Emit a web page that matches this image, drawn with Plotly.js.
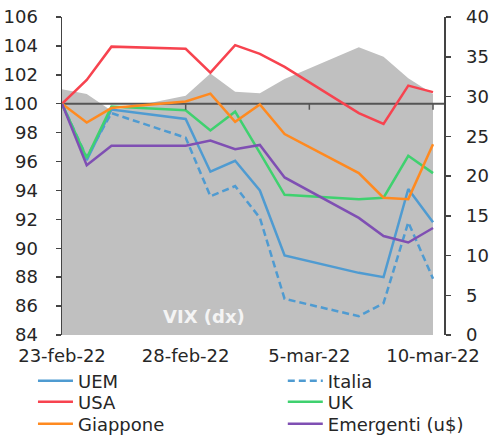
<!DOCTYPE html>
<html>
<head>
<meta charset="utf-8">
<script src="https://cdn.plot.ly/plotly-3.0.1.min.js"></script>
<style>
  html, body { margin: 0; padding: 0; background: #ffffff; }
  #chart { width: 492px; height: 438px; }
</style>
</head>
<body>
<div id="chart"></div>
<script>
// ---- data ----
const dates = ['2022-02-23','2022-02-24','2022-02-25','2022-02-28','2022-03-01','2022-03-02',
               '2022-03-03','2022-03-04','2022-03-07','2022-03-08','2022-03-09','2022-03-10'];
const uem       = [100, 96.1, 99.6, 98.95, 95.3, 96.05, 94.0, 89.5, 88.3, 88.0, 94.1, 91.8];
const italia    = [100, 96.3, 99.35, 97.65, 93.6, 94.3, 92.1, 86.5, 85.3, 86.2, 91.8, 87.9];
const usa       = [100, 101.65, 103.95, 103.8, 102.15, 104.05, 103.45, 102.55, 99.35, 98.6, 101.25, 100.8];
const uk        = [100, 96.25, 99.8, 99.55, 98.15, 99.45, 96.6, 93.7, 93.4, 93.5, 96.4, 95.2];
const giappone  = [100, 98.7, 99.7, 100.15, 100.7, 98.75, 99.95, 97.9, 95.2, 93.5, 93.4, 97.2];
const emergenti = [100, 95.75, 97.1, 97.1, 97.45, 96.85, 97.15, 94.9, 92.1, 90.85, 90.4, 91.4];
const vix       = [30.9, 30.3, 28.2, 30.1, 32.9, 30.6, 30.4, 32.2, 36.2, 35.0, 32.3, 30.3];

const seriesNames = ['UEM','Italia','USA','UK','Giappone','Emergenti (u$)'];
const tickDates  = ['2022-02-23','2022-02-28','2022-03-05','2022-03-10'];
const tickLabels = ['23-feb-22','28-feb-22','5-mar-22','10-mar-22'];
const base = 100;
const xRange = ['2022-02-23', '2022-03-10 10:40'];
const leftRange = [84, 106];
const rightRange = [0, 40];

// ---- styles ----
const FONT = 'DejaVu Sans, Liberation Sans, Arial, sans-serif';
const TXT = '#262626';
const colors = ['#4f9bd1', '#4f9bd1', '#f7434f', '#3fd16f', '#ff8a20', '#7f4fb3'];
const dashes = ['solid', '7px,4px', 'solid', 'solid', 'solid', 'solid'];
const values = [uem, italia, usa, uk, giappone, emergenti];
// legend grid: two columns, three rows (paper fractions of the plot area)
const legendCols = [-0.076, 0.578];
const legendRows = [-0.145, -0.211, -0.280];

const traces = [];
traces.push({
  x: dates, y: vix, type: 'scatter', mode: 'lines',
  fill: 'tozeroy', fillcolor: '#c0c0c0',
  line: {width: 0, color: '#c0c0c0'},
  yaxis: 'y', xaxis: 'x', showlegend: false, hoverinfo: 'skip'
});
traces.push({
  x: xRange, y: [base, base], type: 'scatter', mode: 'lines',
  line: {width: 2, color: '#555555'},
  yaxis: 'y2', xaxis: 'x', showlegend: false, hoverinfo: 'skip'
});
const legendDefs = {};
seriesNames.forEach((name, i) => {
  const lid = i === 0 ? 'legend' : 'legend' + (i + 1);
  traces.push({
    x: dates, y: values[i], name: name, type: 'scatter', mode: 'lines',
    line: {width: 2.5, color: colors[i], dash: dashes[i]},
    yaxis: 'y2', xaxis: 'x', legend: lid, showlegend: true
  });
  legendDefs[lid] = {
    xref: 'paper', yref: 'paper', orientation: 'h',
    x: legendCols[i % 2], y: legendRows[Math.floor(i / 2)],
    xanchor: 'left', yanchor: 'middle',
    font: {family: FONT, size: 18, color: TXT},
    bgcolor: 'rgba(0,0,0,0)', borderwidth: 0, itemwidth: 35
  };
});

const shapes = tickDates.slice(1).map(d => ({
  type: 'line', xref: 'x', yref: 'y2',
  x0: d, x1: d, ysizemode: 'pixel', yanchor: base, y0: 0, y1: -6,
  line: {color: '#555555', width: 1.5}, layer: 'above'
}));

const axisCommon = {
  showgrid: false, zeroline: false, showline: true,
  linecolor: '#444444', linewidth: 1.5,
  ticks: 'outside', ticklen: 5, tickwidth: 1.5, tickcolor: '#444444',
  tickfont: {family: FONT, size: 18, color: TXT}
};

const layout = Object.assign({
  width: 492, height: 438,
  margin: {l: 62, r: 48, t: 17, b: 103, autoexpand: false},
  paper_bgcolor: '#ffffff', plot_bgcolor: 'rgba(0,0,0,0)',
  font: {family: FONT, size: 18, color: TXT},
  showlegend: true,
  xaxis: {
    type: 'date', range: xRange,
    tickvals: tickDates, ticktext: tickLabels,
    showgrid: false, zeroline: false, showline: false, ticks: '',
    ticklabelstandoff: 8, automargin: false,
    tickfont: {family: FONT, size: 18, color: TXT}
  },
  yaxis: Object.assign({}, axisCommon, {
    range: rightRange, dtick: 5, side: 'right', anchor: 'x',
    ticklabelstandoff: 12, automargin: false
  }),
  yaxis2: Object.assign({}, axisCommon, {
    range: leftRange, dtick: 2, side: 'left', overlaying: 'y', anchor: 'x',
    ticklabelstandoff: 14, automargin: false
  }),
  shapes: shapes,
  annotations: [{
    text: '<b>VIX (dx)</b>', xref: 'paper', yref: 'paper',
    x: 0.372, y: 0.057, xanchor: 'center', yanchor: 'middle', showarrow: false,
    font: {family: FONT, size: 18, color: '#f4f4f4'}
  }]
}, legendDefs);

Plotly.newPlot('chart', traces, layout, {displayModeBar: false, staticPlot: true});
</script>
</body>
</html>
